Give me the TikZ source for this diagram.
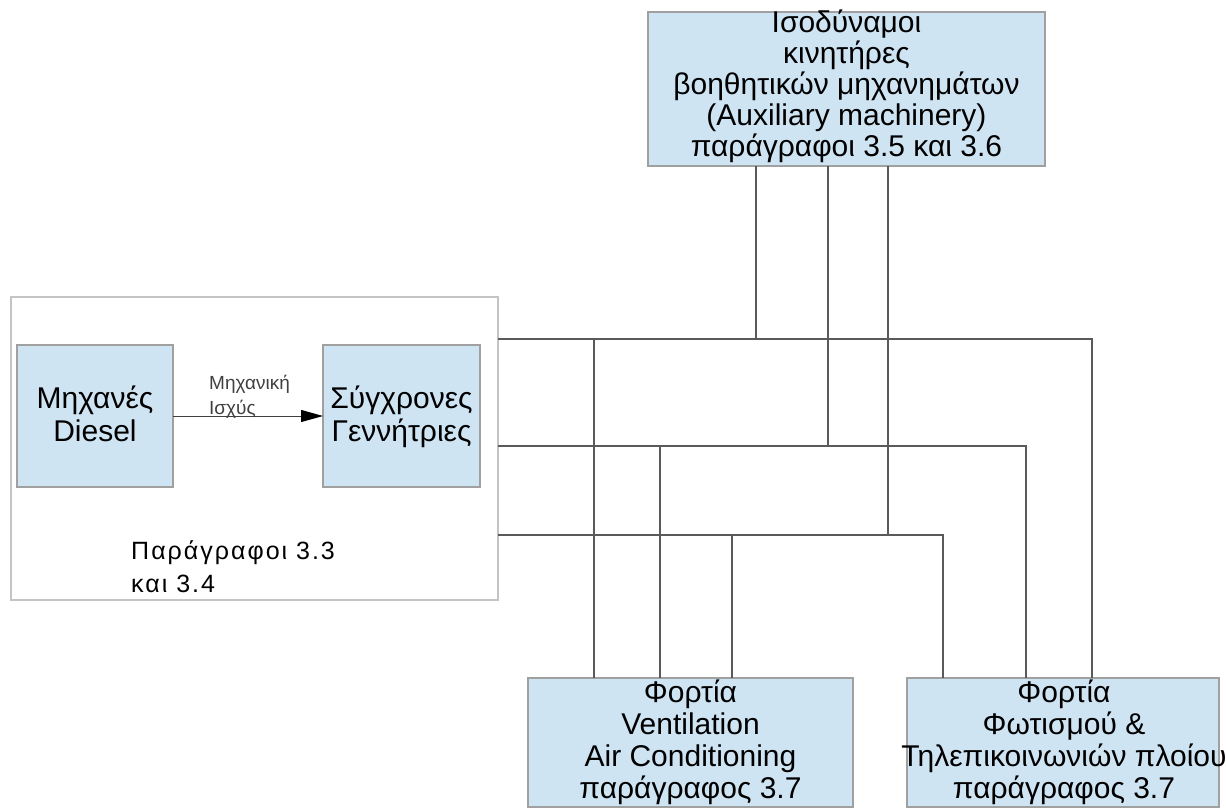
\documentclass[tikz,border=0pt]{standalone}
\usepackage{fontspec}
\setmainfont{Liberation Sans}
\usetikzlibrary{arrows.meta}
\definecolor{boxfill}{HTML}{CFE4F3}
\definecolor{boxline}{HTML}{A0A0A0}
\definecolor{wire}{HTML}{5A5A5A}
\definecolor{grpline}{HTML}{C4C4C4}
\definecolor{lblgray}{HTML}{404040}
\newcommand\mystrut[1]{\rule{0pt}{#1}}
\newcommand\setfs[2]{\fontsize{#1}{#2}\selectfont\lineskiplimit=-100pt\relax}
\begin{document}
\begin{tikzpicture}[x=1pt,y=-1pt,
  box/.style={draw=boxline, fill=boxfill, line width=1.2pt, inner sep=0pt, outer sep=0pt, rectangle},
  grp/.style={draw=grpline, line width=1.2pt, inner sep=0pt, outer sep=0pt, rectangle},
  wireline/.style={draw=wire, line width=1.2pt},
  lbl/.style={inner sep=0pt, align=center, anchor=north, font={\setfs{30}{31}}}
]
\useasboundingbox (0,0) rectangle (1226,808);

% group box
\node[grp, minimum width=487pt, minimum height=303pt] (group) at (254.5,448.5) {};

% bus and junction coordinates
\coordinate (b1) at (1092,339);
\coordinate (b2) at (1026,446);
\coordinate (b3) at (943,535);
\coordinate (t1) at (756,339);
\coordinate (t2) at (828,446);
\coordinate (t3) at (888,535);
\coordinate (l1) at (594,339);
\coordinate (l2) at (660,446);
\coordinate (l3) at (732,535);

% boxes
\node[box, minimum width=397pt, minimum height=154pt] (aux) at (846.5,89) {};
\node[box, minimum width=156pt, minimum height=142pt] (diesel) at (95,416) {};
\node[box, minimum width=157pt, minimum height=142pt] (gen) at (401.5,416) {};
\node[box, minimum width=325pt, minimum height=129pt] (loadA) at (690.5,742.5) {};
\node[box, minimum width=312pt, minimum height=129pt] (loadB) at (1063,742.5) {};

% buses
\draw[wireline] (group.east |- b1) -- (b1) -- (b1 |- loadB.north);
\draw[wireline] (group.east |- b2) -- (b2) -- (b2 |- loadB.north);
\draw[wireline] (group.east |- b3) -- (b3) -- (b3 |- loadB.north);

% auxiliary machinery feeders
\draw[wireline] (t1 |- aux.south) -- (t1);
\draw[wireline] (t2 |- aux.south) -- (t2);
\draw[wireline] (t3 |- aux.south) -- (t3);

% ventilation feeders
\draw[wireline] (l1) -- (l1 |- loadA.north);
\draw[wireline] (l2) -- (l2 |- loadA.north);
\draw[wireline] (l3) -- (l3 |- loadA.north);

% mechanical power arrow
\draw[draw=lblgray, line width=1pt, -{Triangle[length=22pt,width=12pt,color=black,fill=black]}] (diesel.east) -- (gen.west);

% texts
\node[lbl] (auxT) at (846.5,2) {\mystrut{30pt}Ισοδύναμοι\\κινητήρες\\βοηθητικών μηχανημάτων\\(Auxiliary machinery)\\παράγραφοι 3.5 και 3.6};
\node[lbl, font={\setfs{30}{33}}] (dieselT) at (95,378) {\mystrut{30pt}Μηχανές\\Diesel};
\node[lbl, font={\setfs{30}{33}}] (genT) at (401.5,378) {\mystrut{30pt}Σύγχρονες\\Γεννήτριες};
\node[lbl, font={\setfs{30}{32}}] (loadAT) at (690.5,672) {\mystrut{30pt}Φορτία\\Ventilation\\Air Conditioning\\παράγραφος 3.7};
\node[lbl, font={\setfs{30}{32}}] (loadBT) at (1064,672) {\mystrut{30pt}Φορτία\\Φωτισμού \&\\Τηλεπικοινωνιών πλοίου\\παράγραφος 3.7};
\node[inner sep=0pt, align=left, anchor=north west, font={\setfs{25}{33}\addfontfeature{LetterSpace=8}}] (paraT) at (131,534) {\mystrut{25pt}Παράγραφοι 3.3\\και 3.4};
\node[inner sep=0pt, align=left, anchor=north west, text=lblgray, font={\setfs{19}{25}}] (mechT) at (209,370) {\mystrut{19pt}Μηχανική\\Ισχύς};
\end{tikzpicture}
\end{document}
